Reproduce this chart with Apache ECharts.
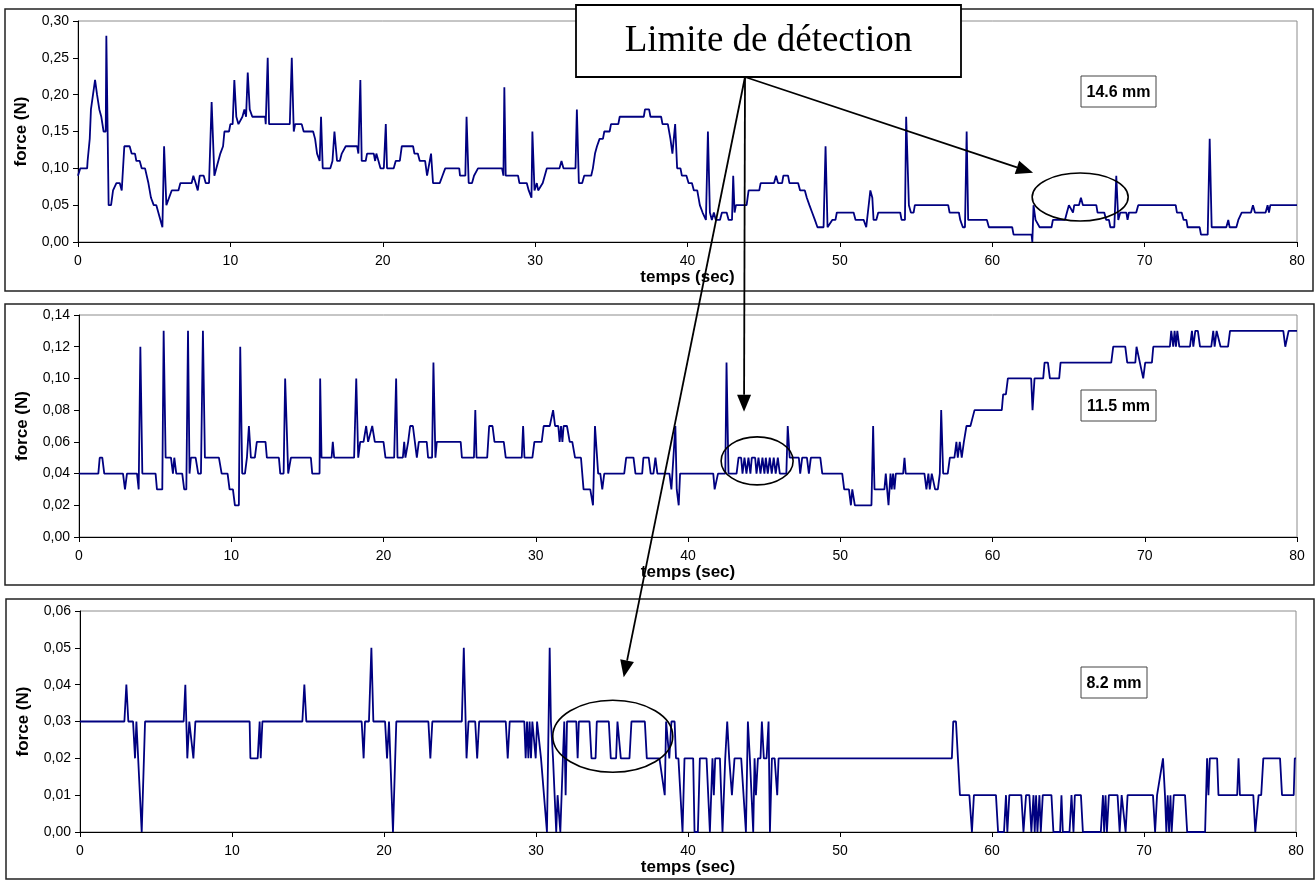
<!DOCTYPE html>
<html><head><meta charset="utf-8">
<script src="https://cdn.jsdelivr.net/npm/echarts@6/dist/echarts.min.js"></script>
<style>html,body{margin:0;padding:0;background:#fff}#c{width:1315px;height:880px}</style>
</head><body><div id="c"></div>
<script>
// ---- data: [time (s), force (N)] ----
const force146 = [[0,0.09],[0.15,0.10],[0.6,0.10],[0.63,0.11],[0.77,0.14],[0.85,0.18],[1.12,0.22],[1.25,0.20],[1.4,0.18],[1.53,0.17],[1.68,0.15],[1.82,0.15],[1.86,0.28],[2.01,0.05],[2.17,0.05],[2.3,0.07],[2.43,0.07],[2.52,0.08],[2.74,0.08],[2.87,0.07],[3.04,0.13],[3.39,0.13],[3.52,0.12],[3.74,0.12],[3.83,0.11],[4.05,0.11],[4.18,0.10],[4.4,0.10],[4.62,0.08],[4.79,0.06],[4.97,0.05],[5.14,0.05],[5.54,0.02],[5.65,0.13],[5.8,0.05],[5.93,0.05],[6.15,0.07],[6.59,0.07],[6.72,0.08],[7.46,0.08],[7.57,0.09],[7.72,0.08],[7.86,0.07],[7.99,0.09],[8.25,0.09],[8.38,0.08],[8.6,0.08],[8.77,0.19],[8.95,0.09],[9.08,0.10],[9.21,0.10],[9.34,0.12],[9.52,0.13],[9.61,0.15],[9.91,0.15],[10.0,0.16],[10.15,0.16],[10.26,0.22],[10.39,0.17],[10.53,0.16],[10.66,0.16],[10.79,0.17],[10.92,0.18],[11.03,0.17],[11.14,0.23],[11.27,0.18],[11.44,0.17],[12.28,0.17],[12.32,0.16],[12.45,0.25],[12.54,0.16],[13.9,0.16],[14.03,0.25],[14.16,0.15],[14.25,0.16],[14.68,0.16],[14.81,0.15],[15.43,0.15],[15.56,0.14],[15.69,0.12],[15.86,0.11],[15.95,0.17],[16.06,0.10],[16.56,0.10],[16.7,0.11],[16.78,0.11],[16.83,0.15],[17.0,0.11],[17.18,0.11],[17.31,0.12],[17.44,0.12],[17.57,0.13],[18.32,0.13],[18.4,0.12],[18.53,0.22],[18.62,0.11],[18.88,0.11],[18.97,0.12],[19.41,0.12],[19.5,0.11],[19.58,0.12],[19.72,0.11],[19.85,0.10],[20.07,0.10],[20.2,0.16],[20.28,0.10],[20.72,0.10],[20.85,0.11],[21.12,0.11],[21.25,0.13],[21.99,0.13],[22.08,0.12],[22.3,0.12],[22.43,0.11],[22.78,0.11],[22.91,0.09],[23.04,0.09],[23.17,0.12],[23.3,0.08],[23.74,0.08],[23.92,0.09],[24.1,0.10],[25.02,0.10],[25.07,0.09],[25.42,0.09],[25.5,0.17],[25.64,0.08],[25.86,0.08],[25.99,0.09],[26.25,0.10],[27.83,0.10],[27.92,0.09],[27.98,0.21],[28.07,0.09],[28.88,0.09],[28.97,0.08],[29.45,0.08],[29.58,0.07],[29.76,0.06],[29.82,0.15],[29.96,0.07],[30.11,0.08],[30.2,0.07],[30.33,0.07],[30.5,0.08],[30.77,0.10],[31.6,0.10],[31.73,0.11],[31.86,0.10],[32.65,0.10],[32.74,0.18],[32.87,0.08],[33.09,0.08],[33.22,0.09],[33.68,0.09],[33.79,0.10],[33.93,0.12],[34.06,0.13],[34.23,0.14],[34.45,0.14],[34.54,0.15],[34.89,0.15],[34.98,0.16],[35.46,0.16],[35.55,0.17],[37.13,0.17],[37.21,0.18],[37.48,0.18],[37.57,0.17],[38.27,0.17],[38.36,0.16],[38.71,0.16],[38.88,0.14],[39.01,0.12],[39.19,0.16],[39.32,0.10],[39.54,0.10],[39.63,0.09],[39.93,0.09],[40.07,0.08],[40.29,0.08],[40.42,0.07],[40.64,0.07],[40.81,0.05],[40.99,0.04],[41.21,0.03],[41.34,0.15],[41.47,0.04],[41.6,0.03],[41.73,0.04],[41.86,0.03],[42.13,0.03],[42.26,0.04],[42.57,0.04],[42.7,0.03],[42.92,0.03],[43.0,0.09],[43.09,0.04],[43.18,0.05],[43.88,0.05],[44.01,0.07],[44.71,0.07],[44.8,0.08],[45.68,0.08],[45.81,0.09],[45.94,0.08],[46.21,0.08],[46.29,0.09],[46.6,0.09],[46.69,0.08],[47.26,0.08],[47.39,0.07],[47.7,0.07],[47.83,0.06],[48.0,0.05],[48.18,0.04],[48.36,0.03],[48.53,0.02],[48.93,0.02],[49.06,0.13],[49.19,0.02],[49.32,0.02],[49.5,0.03],[49.71,0.03],[49.8,0.04],[50.9,0.04],[51.03,0.03],[51.56,0.03],[51.73,0.02],[51.86,0.02],[52.0,0.07],[52.13,0.06],[52.21,0.03],[52.39,0.03],[52.52,0.04],[53.96,0.04],[54.05,0.03],[54.27,0.03],[54.35,0.17],[54.53,0.05],[54.66,0.04],[54.84,0.04],[54.92,0.05],[57.11,0.05],[57.2,0.04],[57.81,0.04],[57.9,0.03],[58.07,0.02],[58.21,0.02],[58.32,0.15],[58.42,0.03],[59.65,0.03],[59.78,0.02],[61.31,0.02],[61.4,0.01],[62.58,0.01],[62.63,0.0],[62.71,0.05],[62.84,0.03],[63.11,0.02],[63.89,0.02],[63.98,0.03],[64.77,0.03],[64.9,0.04],[65.03,0.05],[65.16,0.05],[65.3,0.04],[65.38,0.05],[65.69,0.05],[65.82,0.06],[65.95,0.05],[66.83,0.05],[66.91,0.04],[67.35,0.04],[67.48,0.03],[67.66,0.03],[67.75,0.02],[68.01,0.02],[68.14,0.09],[68.27,0.03],[68.4,0.04],[68.8,0.04],[68.88,0.03],[68.97,0.04],[69.45,0.04],[69.58,0.05],[72.04,0.05],[72.12,0.04],[72.43,0.04],[72.56,0.03],[72.74,0.03],[72.82,0.02],[73.61,0.02],[73.7,0.01],[74.14,0.01],[74.27,0.14],[74.4,0.02],[75.36,0.02],[75.49,0.03],[75.58,0.02],[76.02,0.02],[76.15,0.03],[76.37,0.04],[76.98,0.04],[77.11,0.05],[77.24,0.04],[77.94,0.04],[78.07,0.05],[78.16,0.04],[78.25,0.05],[80,0.05]];

const force115 = [[0,0.04],[1.27,0.04],[1.36,0.05],[1.53,0.05],[1.66,0.04],[2.89,0.04],[3.02,0.03],[3.15,0.04],[3.81,0.04],[3.92,0.03],[4.03,0.12],[4.16,0.04],[5.03,0.04],[5.12,0.03],[5.47,0.03],[5.56,0.13],[5.69,0.05],[6.04,0.05],[6.17,0.04],[6.26,0.05],[6.39,0.04],[6.78,0.04],[6.91,0.03],[7.05,0.03],[7.16,0.13],[7.26,0.04],[7.35,0.05],[7.66,0.05],[7.83,0.04],[8.01,0.04],[8.14,0.13],[8.27,0.05],[9.19,0.05],[9.37,0.04],[9.76,0.04],[9.89,0.03],[10.11,0.03],[10.24,0.02],[10.5,0.02],[10.59,0.12],[10.72,0.04],[10.9,0.04],[11.03,0.05],[11.16,0.07],[11.29,0.05],[11.55,0.05],[11.68,0.06],[12.25,0.06],[12.34,0.05],[13.13,0.05],[13.22,0.04],[13.44,0.04],[13.54,0.10],[13.74,0.04],[13.92,0.05],[15.23,0.05],[15.32,0.04],[15.8,0.04],[15.84,0.10],[15.93,0.05],[16.59,0.05],[16.67,0.06],[16.76,0.05],[18.07,0.05],[18.21,0.10],[18.34,0.05],[18.47,0.06],[18.69,0.06],[18.86,0.07],[18.99,0.06],[19.12,0.06],[19.26,0.07],[19.43,0.06],[20.0,0.06],[20.13,0.05],[20.7,0.05],[20.83,0.10],[20.92,0.05],[21.27,0.05],[21.36,0.06],[21.44,0.05],[21.62,0.06],[21.75,0.07],[21.93,0.07],[22.19,0.05],[22.32,0.06],[22.84,0.06],[22.93,0.05],[23.19,0.05],[23.28,0.11],[23.41,0.05],[23.5,0.06],[25.07,0.06],[25.15,0.05],[25.94,0.05],[26.03,0.08],[26.11,0.05],[26.81,0.05],[26.94,0.07],[27.16,0.07],[27.29,0.06],[27.9,0.06],[28.03,0.05],[29.08,0.05],[29.17,0.07],[29.26,0.05],[29.78,0.05],[29.91,0.06],[30.39,0.06],[30.52,0.07],[30.92,0.07],[31.14,0.08],[31.27,0.07],[31.48,0.07],[31.57,0.06],[31.66,0.07],[31.75,0.06],[31.83,0.07],[32.05,0.07],[32.23,0.06],[32.4,0.06],[32.58,0.05],[32.97,0.05],[33.14,0.03],[33.58,0.03],[33.76,0.02],[33.89,0.07],[34.1,0.04],[34.24,0.04],[34.37,0.03],[34.5,0.04],[35.81,0.04],[35.94,0.05],[36.42,0.05],[36.55,0.04],[36.99,0.04],[37.07,0.05],[37.42,0.05],[37.55,0.04],[37.73,0.04],[37.86,0.05],[37.99,0.04],[38.78,0.04],[38.91,0.03],[39.04,0.03],[39.17,0.07],[39.26,0.03],[39.39,0.02],[39.48,0.04],[41.66,0.04],[41.75,0.03],[41.88,0.03],[41.97,0.04],[42.45,0.04],[42.53,0.11],[42.66,0.04],[43.19,0.04],[43.32,0.05],[43.49,0.05],[43.58,0.04],[43.71,0.05],[43.84,0.04],[43.97,0.05],[44.1,0.04],[44.19,0.05],[44.41,0.05],[44.5,0.04],[44.63,0.05],[44.76,0.04],[44.89,0.05],[45.02,0.04],[45.11,0.05],[45.24,0.04],[45.37,0.05],[45.5,0.04],[45.63,0.05],[45.76,0.04],[45.9,0.05],[46.03,0.04],[46.46,0.04],[46.55,0.07],[46.68,0.05],[47.28,0.05],[47.37,0.04],[47.5,0.05],[47.81,0.05],[47.94,0.04],[48.07,0.05],[48.69,0.05],[48.82,0.04],[50.13,0.04],[50.26,0.03],[50.57,0.03],[50.7,0.02],[50.79,0.03],[50.88,0.03],[50.96,0.02],[52.05,0.02],[52.16,0.07],[52.25,0.03],[52.9,0.03],[52.99,0.04],[53.08,0.03],[53.17,0.02],[53.3,0.04],[53.38,0.03],[53.47,0.04],[53.56,0.03],[53.65,0.04],[54.13,0.04],[54.22,0.05],[54.3,0.04],[55.53,0.04],[55.66,0.03],[55.79,0.04],[55.88,0.03],[56.01,0.04],[56.14,0.04],[56.23,0.03],[56.41,0.03],[56.54,0.04],[56.63,0.08],[56.76,0.04],[57.06,0.04],[57.2,0.05],[57.5,0.05],[57.63,0.06],[57.72,0.05],[57.85,0.06],[57.98,0.05],[58.12,0.06],[58.29,0.07],[58.55,0.07],[58.82,0.08],[60.61,0.08],[60.7,0.09],[60.88,0.09],[61.01,0.10],[62.54,0.10],[62.63,0.08],[62.76,0.10],[63.33,0.10],[63.42,0.11],[63.64,0.11],[63.77,0.10],[64.38,0.10],[64.47,0.11],[67.8,0.11],[67.93,0.12],[68.72,0.12],[68.85,0.11],[69.38,0.11],[69.46,0.12],[69.55,0.12],[69.68,0.11],[69.81,0.11],[69.9,0.10],[70.03,0.11],[70.47,0.11],[70.56,0.12],[71.65,0.12],[71.74,0.13],[71.87,0.12],[71.96,0.13],[72.05,0.12],[72.14,0.13],[72.27,0.12],[72.97,0.12],[73.1,0.13],[73.19,0.12],[73.32,0.13],[73.49,0.13],[73.63,0.12],[74.37,0.12],[74.5,0.13],[74.59,0.12],[74.72,0.13],[74.85,0.13],[74.98,0.12],[75.47,0.12],[75.6,0.13],[79.1,0.13],[79.23,0.12],[79.36,0.12],[79.45,0.13],[80,0.13]];

const force82 = [[0,0.03],[2.92,0.03],[3.05,0.04],[3.18,0.03],[3.49,0.03],[3.62,0.02],[3.71,0.03],[3.84,0.03],[4.06,0.0],[4.28,0.03],[6.82,0.03],[6.93,0.04],[7.06,0.02],[7.19,0.03],[7.32,0.03],[7.46,0.02],[7.59,0.03],[11.16,0.03],[11.21,0.02],[11.69,0.02],[11.82,0.03],[11.89,0.02],[12.0,0.03],[14.63,0.03],[14.76,0.04],[14.89,0.03],[18.53,0.03],[18.66,0.02],[18.75,0.03],[19.01,0.03],[19.17,0.05],[19.3,0.03],[20.07,0.03],[20.2,0.02],[20.33,0.03],[20.46,0.03],[20.59,0.0],[20.81,0.03],[22.92,0.03],[23.05,0.02],[23.18,0.03],[25.12,0.03],[25.25,0.05],[25.43,0.02],[25.56,0.03],[26.0,0.03],[26.13,0.02],[26.26,0.03],[28.01,0.03],[28.14,0.02],[28.27,0.03],[29.23,0.03],[29.32,0.02],[29.41,0.03],[29.5,0.02],[29.58,0.03],[29.67,0.02],[29.76,0.03],[29.89,0.03],[29.98,0.02],[30.07,0.03],[30.2,0.03],[30.33,0.02],[30.46,0.02],[30.72,0.0],[30.81,0.0],[30.9,0.05],[30.98,0.03],[31.12,0.02],[31.2,0.02],[31.33,0.0],[31.42,0.01],[31.51,0.01],[31.6,0.0],[31.68,0.0],[31.77,0.02],[31.86,0.03],[31.95,0.01],[32.04,0.03],[32.65,0.03],[32.74,0.02],[32.82,0.03],[33.52,0.03],[33.65,0.02],[33.92,0.02],[34.0,0.03],[34.79,0.03],[34.92,0.02],[35.27,0.02],[35.36,0.03],[35.49,0.03],[35.58,0.02],[36.15,0.02],[36.28,0.03],[37.16,0.03],[37.29,0.02],[38.12,0.02],[38.47,0.01],[38.56,0.03],[38.69,0.03],[38.77,0.02],[38.91,0.03],[39.12,0.03],[39.21,0.02],[39.37,0.02],[39.64,0.0],[39.77,0.02],[40.34,0.02],[40.43,0.0],[40.65,0.0],[40.78,0.02],[41.22,0.02],[41.44,0.0],[41.61,0.02],[41.7,0.01],[41.79,0.02],[42.1,0.02],[42.27,0.0],[42.45,0.02],[42.58,0.03],[42.71,0.02],[42.89,0.01],[43.06,0.02],[43.5,0.02],[43.81,0.0],[43.94,0.03],[44.07,0.02],[44.29,0.0],[44.38,0.02],[44.47,0.01],[44.6,0.02],[44.77,0.02],[44.86,0.03],[44.99,0.02],[45.17,0.02],[45.3,0.03],[45.39,0.0],[45.52,0.02],[45.7,0.02],[45.87,0.01],[45.96,0.02],[57.36,0.02],[57.45,0.03],[57.63,0.03],[57.76,0.02],[57.89,0.01],[58.51,0.01],[58.68,0.0],[58.81,0.01],[60.26,0.01],[60.4,0.0],[60.79,0.0],[60.92,0.01],[61.01,0.0],[61.14,0.01],[61.93,0.01],[62.07,0.0],[62.24,0.01],[62.46,0.01],[62.59,0.0],[62.73,0.01],[62.81,0.0],[62.9,0.01],[62.99,0.0],[63.12,0.01],[63.21,0.0],[63.34,0.01],[63.91,0.01],[64.04,0.0],[64.48,0.0],[64.57,0.01],[64.66,0.0],[65.1,0.0],[65.23,0.01],[65.36,0.0],[65.45,0.01],[65.85,0.01],[65.98,0.0],[67.16,0.0],[67.3,0.01],[67.38,0.0],[67.47,0.01],[67.56,0.0],[67.69,0.01],[68.26,0.01],[68.4,0.0],[68.53,0.01],[68.66,0.01],[68.79,0.0],[68.92,0.01],[70.59,0.01],[70.73,0.0],[70.86,0.01],[70.99,0.01],[71.25,0.02],[71.38,0.01],[71.47,0.0],[71.56,0.01],[71.65,0.0],[71.74,0.01],[71.82,0.0],[71.96,0.01],[72.7,0.01],[72.84,0.0],[74.02,0.0],[74.15,0.02],[74.24,0.01],[74.33,0.02],[74.81,0.02],[74.9,0.01],[76.13,0.01],[76.22,0.02],[76.31,0.01],[77.19,0.01],[77.32,0.0],[77.41,0.0],[77.54,0.01],[77.71,0.01],[77.85,0.02],[78.95,0.02],[79.08,0.01],[79.85,0.01],[79.92,0.02],[80,0.02]];

const yMaxes = [0.30, 0.14, 0.06];
const ySteps = [0.05, 0.02, 0.01];
const xMin = 0, xMax = 80, xStep = 10;
const depthLabels = ['14.6 mm', '11.5 mm', '8.2 mm'];
const calloutText = 'Limite de détection';
const xName = 'temps (sec)';
const yName = 'force (N)';
// annotation anchors in data coordinates (panel index, time, force)
const ellipseCenters = [[0, 65.77, 0.061], [1, 44.54, 0.048], [2, 35.05, 0.026]];
const ellipseRadii = [[48, 24], [36, 24], [60, 36]];
const arrowTips = [[0, 62.68, 0.094], [1, 43.68, 0.079], [2, 35.77, 0.042]];

const series = [force146, force115, force82];
const gridBoxes = [
  {left: 78, right: 18, top: 21, height: 221},
  {left: 79, right: 18, top: 315, height: 222},
  {left: 80, right: 19, top: 611, height: 221}
];
const FONT = '"Liberation Sans", Arial, sans-serif';

const chart = echarts.init(document.getElementById('c'), null, {renderer: 'canvas'});
const fmt = v => v.toFixed(2).replace('.', ',');

chart.setOption({
  animation: false,
  backgroundColor: '#fff',
  grid: gridBoxes.map(g => Object.assign({show: true, borderColor: '#8c8c8c', borderWidth: 1, backgroundColor: '#fff', containLabel: false}, g)),
  xAxis: gridBoxes.map((g, i) => ({
    type: 'value', gridIndex: i, min: xMin, max: xMax, interval: xStep,
    name: xName, nameLocation: 'middle', nameGap: 26,
    nameTextStyle: {fontFamily: FONT, fontWeight: 'bold', fontSize: 17, color: '#000'},
    axisLine: {show: true, onZero: false, lineStyle: {color: '#000', width: 1}},
    axisTick: {show: true, length: 5, lineStyle: {color: '#000'}},
    axisLabel: {fontFamily: FONT, fontSize: 14, color: '#000', margin: 12},
    splitLine: {show: false}
  })),
  yAxis: gridBoxes.map((g, i) => ({
    type: 'value', gridIndex: i, min: 0, max: yMaxes[i], interval: ySteps[i],
    name: yName, nameLocation: 'middle', nameGap: 48, nameRotate: 90,
    nameTextStyle: {fontFamily: FONT, fontWeight: 'bold', fontSize: 17, color: '#000'},
    axisLine: {show: true, lineStyle: {color: '#000', width: 1}},
    axisTick: {show: true, length: 5, lineStyle: {color: '#000'}},
    axisLabel: {fontFamily: FONT, fontSize: 14, color: '#000', margin: 9, formatter: fmt},
    splitLine: {show: false}
  })),
  series: series.map((d, i) => ({
    type: 'line', xAxisIndex: i, yAxisIndex: i, data: d,
    showSymbol: false, symbol: 'none',
    lineStyle: {color: '#000080', width: 1.8},
    z: 3
  }))
});

// ---- annotations ----
const px = (p, t, v) => chart.convertToPixel({gridIndex: p}, [t, v]);
const graphics = [];
// outer frame of each panel
const frames = [[5, 9, 1308, 282], [5, 304, 1309, 281], [6, 599, 1308, 280]];
frames.forEach(f => graphics.push({type: 'rect', shape: {x: f[0], y: f[1], width: f[2], height: f[3]}, style: {fill: 'none', stroke: '#222', lineWidth: 1.5}, z: 1, silent: true}));
// depth labels
const labelBoxes = [[1081, 76, 75, 31], [1081, 390, 75, 31], [1081, 667, 66, 31]];
labelBoxes.forEach((b, i) => {
  graphics.push({type: 'rect', shape: {x: b[0], y: b[1], width: b[2], height: b[3]}, style: {fill: '#fff', stroke: '#444', lineWidth: 1}, z: 50});
  graphics.push({type: 'text', x: b[0] + b[2] / 2, y: b[1] + b[3] / 2 + 1, style: {text: depthLabels[i], fontFamily: FONT, fontWeight: 'bold', fontSize: 16, fill: '#000', textAlign: 'center', textVerticalAlign: 'middle'}, z: 51});
});
// ellipses
ellipseCenters.forEach((e, i) => {
  const c = px(e[0], e[1], e[2]);
  graphics.push({type: 'ellipse', shape: {cx: c[0], cy: c[1], rx: ellipseRadii[i][0], ry: ellipseRadii[i][1]}, style: {fill: 'none', stroke: '#000', lineWidth: 1.6}, z: 60});
});
// arrows from the callout box
const origin = [745, 77];
arrowTips.forEach(a => {
  const tip = px(a[0], a[1], a[2]);
  const dx = tip[0] - origin[0], dy = tip[1] - origin[1];
  const L = Math.hypot(dx, dy), ux = dx / L, uy = dy / L;
  const hl = 17, hw = 7;
  const bx = tip[0] - ux * hl, by = tip[1] - uy * hl;
  graphics.push({type: 'line', shape: {x1: origin[0], y1: origin[1], x2: bx, y2: by}, style: {stroke: '#000', lineWidth: 1.8}, z: 70});
  graphics.push({type: 'polygon', shape: {points: [[tip[0], tip[1]], [bx - uy * hw, by + ux * hw], [bx + uy * hw, by - ux * hw]]}, style: {fill: '#000'}, z: 70});
});
// callout box
graphics.push({type: 'rect', shape: {x: 576, y: 5, width: 385, height: 72}, style: {fill: '#fff', stroke: '#000', lineWidth: 1.8}, z: 80});
graphics.push({type: 'text', x: 768.5, y: 41, style: {text: calloutText, fontFamily: '"Liberation Serif", "Times New Roman", serif', fontSize: 37, fill: '#000', textAlign: 'center', textVerticalAlign: 'middle'}, z: 81});

chart.setOption({graphic: graphics});
</script>
</body></html>
